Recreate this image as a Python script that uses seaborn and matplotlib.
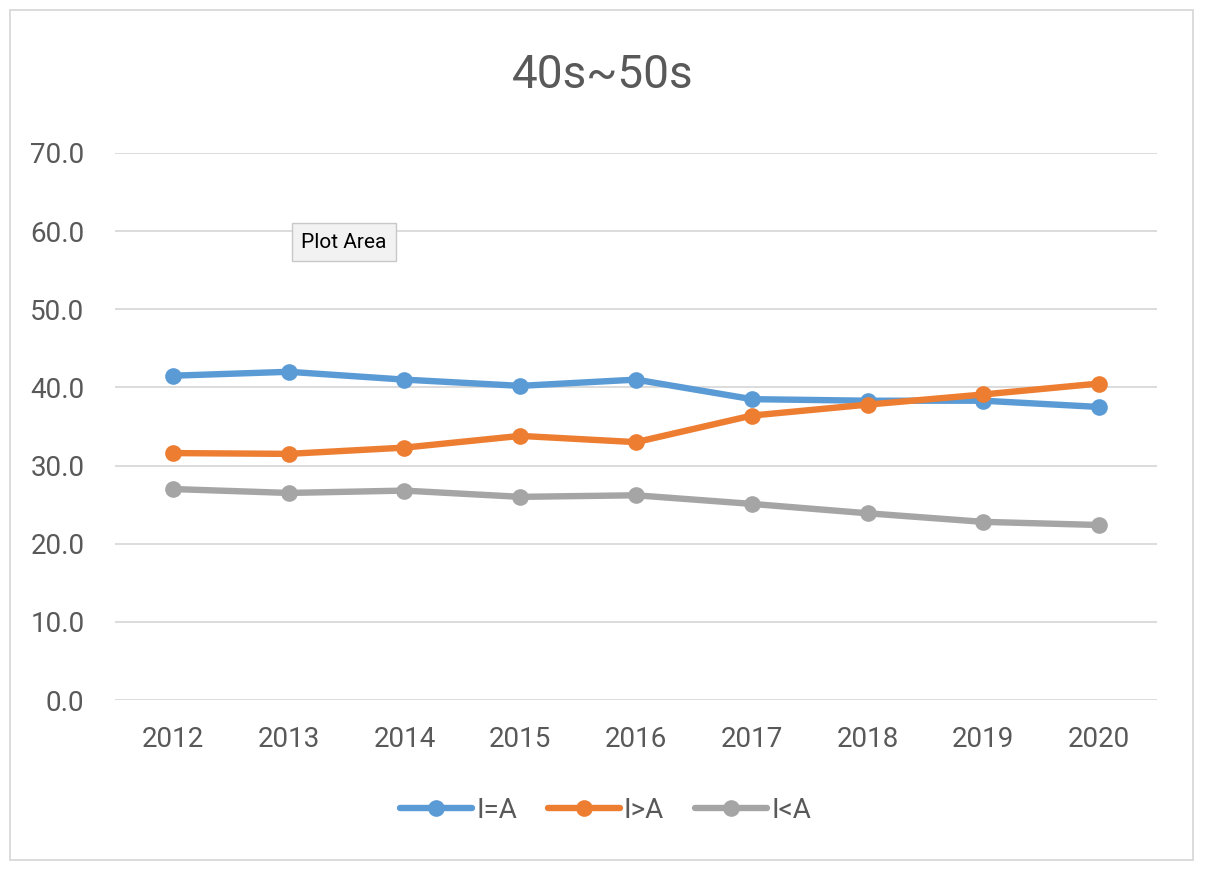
import seaborn as sns
import pandas as pd
import matplotlib.pyplot as plt
from matplotlib.patches import Rectangle

years = ["2012", "2013", "2014", "2015", "2016", "2017", "2018", "2019", "2020"]
i_eq_a = [41.5, 42.0, 41.0, 40.2, 41.0, 38.5, 38.3, 38.3, 37.5]
i_gt_a = [31.6, 31.5, 32.3, 33.8, 33.0, 36.4, 37.8, 39.1, 40.5]
i_lt_a = [27.0, 26.5, 26.8, 26.0, 26.2, 25.1, 23.9, 22.8, 22.4]
series_names = ["I=A", "I>A", "I<A"]
colors = ["#5B9BD5", "#ED7D31", "#A5A5A5"]

df = pd.DataFrame({
    "year": years * 3,
    "value": i_eq_a + i_gt_a + i_lt_a,
    "series": [n for n in series_names for _ in years],
})

sns.set_style("white")
plt.rcParams["font.family"] = ["Roboto", "DejaVu Sans"]
text_col = "#595959"

fig = plt.figure(figsize=(12.06, 8.74), dpi=100)
ax = fig.add_axes([115 / 1206, 0.199, 1042 / 1206, 0.626])

sns.lineplot(data=df, x="year", y="value", hue="series", hue_order=series_names,
             palette=colors, marker="o", markersize=12, markeredgewidth=0,
             linewidth=4.6, ax=ax, legend=False, sort=False,
             solid_capstyle="round")

ax.set_xlim(-0.5, 8.5)
ax.set_ylim(0, 70)
ax.set_yticks(range(0, 71, 10))
ax.set_yticklabels([f"{v:.1f}" for v in range(0, 71, 10)])
ax.set_xlabel("")
ax.set_ylabel("")
ax.grid(axis="y", color="#D9D9D9", linewidth=1.3)
ax.set_axisbelow(True)
for s in ax.spines.values():
    s.set_visible(False)
ax.tick_params(axis="both", length=0, labelsize=20, labelcolor=text_col)
ax.tick_params(axis="y", pad=22)
ax.tick_params(axis="x", pad=19)

fig.text(0.5, 0.914, "40s~50s", ha="center", va="center", fontsize=33, color=text_col)

handles = [plt.Line2D([], [], color=c, linewidth=4.6, marker="o", markersize=12,
                      markeredgewidth=0, solid_capstyle="round") for c in colors]
fig.legend(handles, series_names, loc="center", bbox_to_anchor=(0.502, 0.073), ncol=3,
           frameon=False, fontsize=20, labelcolor=text_col, handlelength=2.6,
           handletextpad=0.15, columnspacing=1.1)

fig.patches.append(Rectangle((10 / 1206, 14 / 874), 1183 / 1206, 850 / 874,
                             transform=fig.transFigure, fill=False,
                             edgecolor="#D9D9D9", linewidth=1.3))

fig.text(344 / 1206, 1 - 242 / 874, "Plot Area", ha="center", va="center", fontsize=15,
         color="black", bbox=dict(boxstyle="square,pad=0.45", facecolor="#F2F2F2",
                                  edgecolor="#C8C8C8", linewidth=1))

fig.savefig("out.png", dpi=100)
